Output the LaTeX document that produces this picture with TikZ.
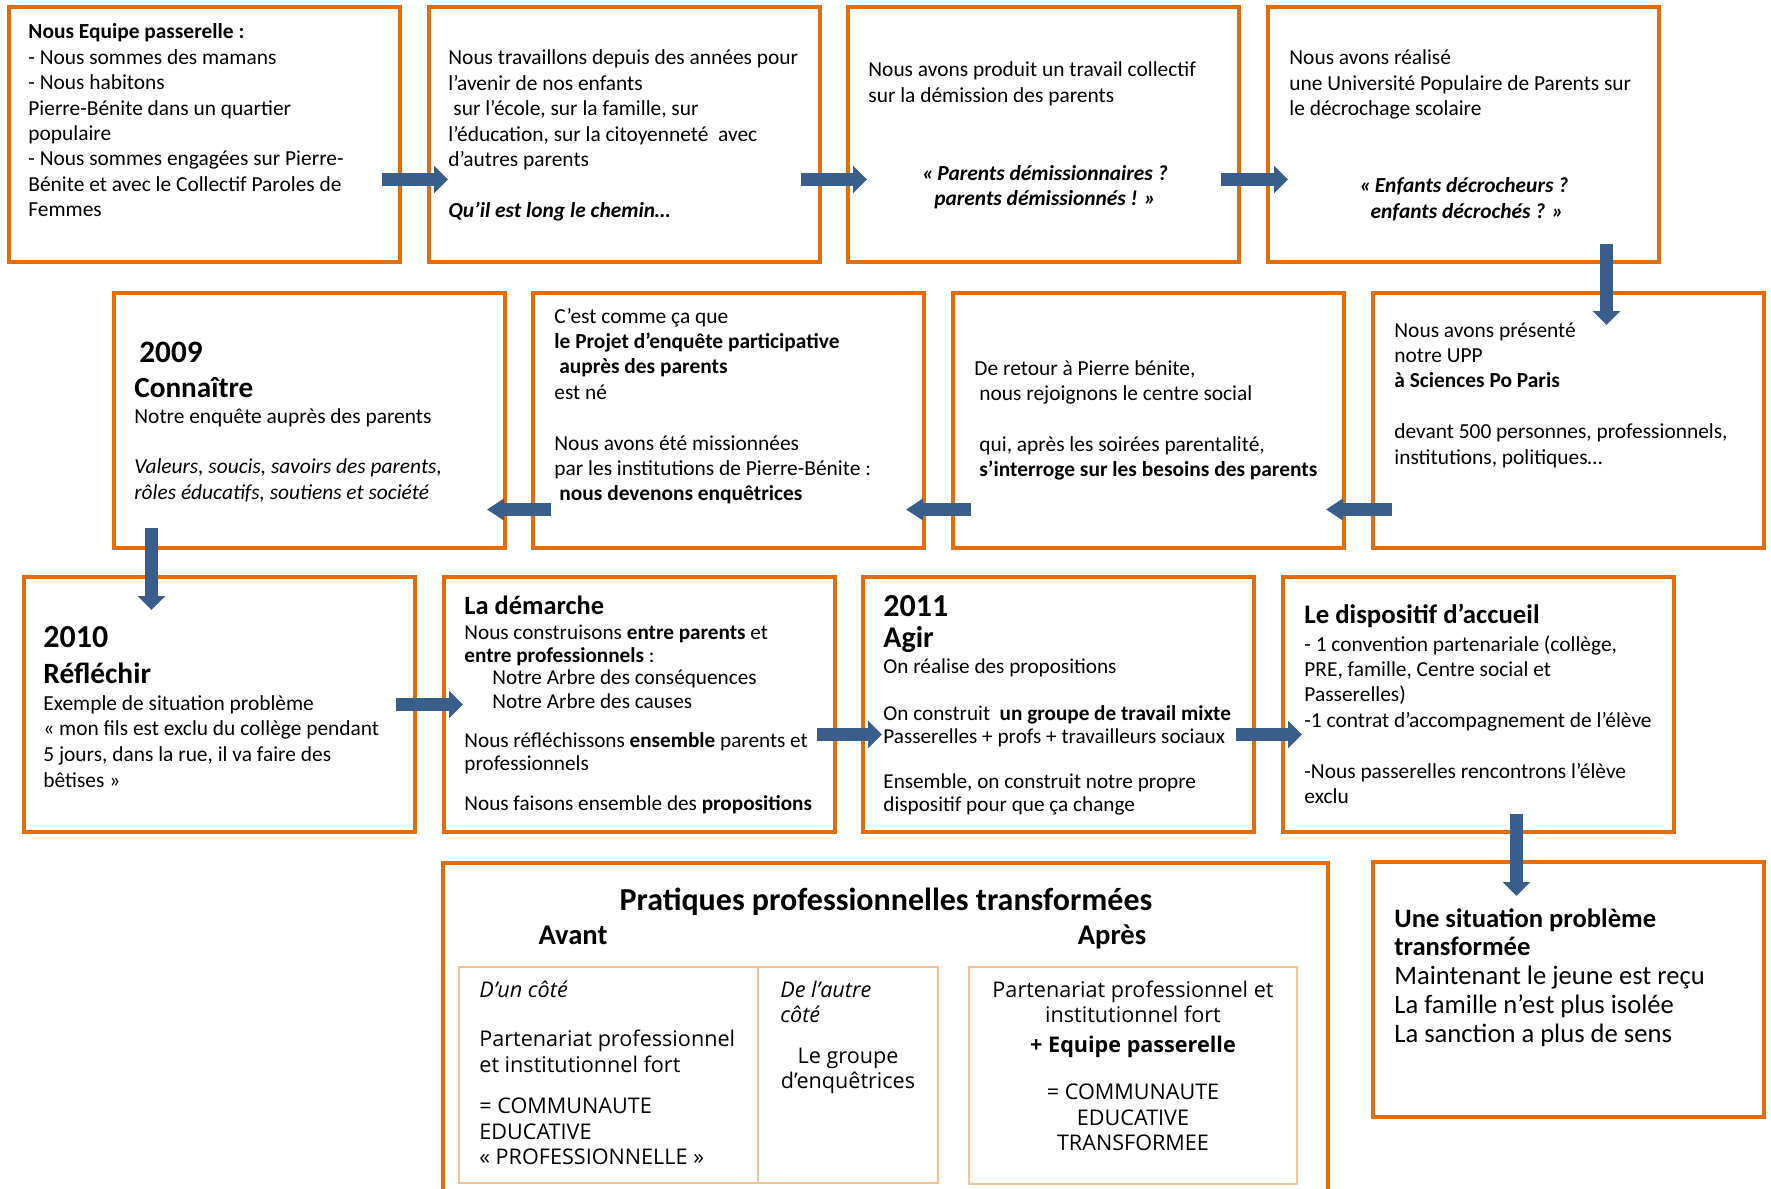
\documentclass[tikz,border=0pt]{standalone}
\usepackage{fontspec}
\setmainfont{Carlito}
\newfontfamily\tabfont{Open Sans}
\usetikzlibrary{arrows.meta,fit}
\definecolor{boxorange}{RGB}{228,108,10}
\definecolor{lightorange}{RGB}{250,192,144}
\definecolor{arrowblue}{RGB}{58,94,140}
\newcommand\bodyfont{\fontsize{10.7}{12.7}\selectfont}
\newcommand\smallbody{\fontsize{10.6}{11.7}\selectfont}
\newcommand\tabbody{\tabfont\fontsize{10.8}{12.6}\selectfont}
\newcommand\tbx[1]{\parbox[t]{260pt}{\raggedright #1}}
\newcommand\tbc[2]{\parbox[t]{#1}{\centering #2}}
\tikzset{
  box/.style={draw=boxorange, line width=1.75pt, inner sep=0pt},
  tabbox/.style={draw=lightorange, line width=1pt, inner sep=0pt},
  txt/.style={anchor=base west, inner sep=0pt, font=\bodyfont},
  ctxt/.style={anchor=base, inner sep=0pt, font=\bodyfont},
  barrow/.style={draw=arrowblue, line width=6.5pt, -{Triangle[width=13.5pt,length=7pt,fill=arrowblue]}},
  larrow/.style={draw=arrowblue, line width=6.5pt, -{Triangle[width=10.5pt,length=8.5pt,fill=arrowblue]}},
}
\begin{document}
\begin{tikzpicture}[x=0.5pt,y=-0.5pt]
\useasboundingbox (0,0) rectangle (1771,1188);
\fill[white] (0,0) rectangle (1771,1188);
\clip (0,0) rectangle (1771,1188);

% ---------- boxes ----------
\node[box, fit={(9,7) (400,262)}] (b1) {};
\node[box, fit={(429,7) (820,262)}] (b2) {};
\node[box, fit={(848,7) (1239,262)}] (b3) {};
\node[box, fit={(1268,7) (1659,262)}] (b4) {};
\node[box, fit={(114,293) (505,548)}] (b5) {};
\node[box, fit={(533,293) (924,548)}] (b6) {};
\node[box, fit={(953,293) (1344,548)}] (b7) {};
\node[box, fit={(1373,293) (1764,548)}] (b8) {};
\node[box, fit={(24,577) (415,832)}] (b9) {};
\node[box, fit={(444,577) (835,832)}] (b10) {};
\node[box, fit={(863,577) (1254,832)}] (b11) {};
\node[box, fit={(1283,577) (1674,832)}] (b12) {};
\node[box, fit={(443,863) (1328,1215)}] (b13) {};
\node[box, fit={(1373,862) (1764,1117)}] (b14) {};
\node[tabbox, fit={(459,967) (758,1183)}] (t1) {};
\node[tabbox, fit={(758,967) (938,1183)}] (t2) {};
\node[tabbox, fit={(969,967) (1297,1184)}] (t3) {};

% ---------- row 1 texts ----------
\node[txt] (x1) at (28,39) {\tbx{\textbf{Nous Equipe passerelle :}\\- Nous sommes des mamans\\- Nous habitons\\Pierre-Bénite dans un quartier\\populaire\\- Nous sommes engagées sur Pierre-\\Bénite et avec le Collectif Paroles de\\Femmes}};
\node[txt] (x2) at (448,65) {\tbx{Nous travaillons depuis des années pour\\l’avenir de nos enfants\\\hspace*{2.5pt}sur l’école, sur la famille, sur\\l’éducation, sur la citoyenneté\ \ avec\\d’autres parents\\[12.7pt]\textbf{\textit{Qu’il est long le chemin…}}}};
\node[txt] (x3) at (868,77) {\tbx{Nous avons produit un travail collectif\\sur la démission des parents}};
\node[ctxt] (x3b) at (1045,180) {\tbc{220pt}{\textbf{\textit{«\,Parents démissionnaires ?\\parents démissionnés ! »}}}};
\node[txt] (x4) at (1289,65) {\tbx{Nous avons réalisé\\une Université Populaire de Parents sur\\le décrochage scolaire}};
\node[ctxt] (x4b) at (1464,192.7) {\tbc{220pt}{\textbf{\textit{«\,Enfants décrocheurs ?\\\hspace*{3pt}enfants décrochés ? »}}}};

% ---------- row 2 texts ----------
\node[txt, font=\bfseries\fontsize{15.6}{17}\selectfont] (y5a) at (139,362) {2009};
\node[txt, font=\bfseries\fontsize{14.6}{16}\selectfont] (y5b) at (134,397) {Connaître};
\node[txt] (y5c) at (134,423) {\tbx{Notre enquête auprès des parents\\[12.7pt]\textit{Valeurs, soucis, savoirs des parents,}\\\textit{rôles éducatifs, soutiens et société}}};
\node[txt] (y6) at (554,323) {\tbx{C’est comme ça que\\\textbf{le Projet d’enquête participative}\\\hspace*{2.5pt}\textbf{auprès des parents}\\est né\\[12.7pt]Nous avons été missionnées\\par les institutions de Pierre-Bénite :\\\hspace*{2.5pt}\textbf{nous devenons enquêtrices}}};
\node[txt] (y7) at (974,375) {\tbx{De retour à Pierre bénite,\\\hspace*{2.5pt}nous rejoignons le centre social\\[12.7pt]\hspace*{2.5pt}qui, après les soirées parentalité,\\\hspace*{2.5pt}\textbf{s’interroge sur les besoins des parents}}};
\node[txt] (y8) at (1394,337) {\tbx{Nous avons présenté\\notre UPP\\\textbf{à Sciences Po Paris}\\[12.7pt]devant 500 personnes, professionnels,\\institutions, politiques…}};

% ---------- row 3 texts ----------
\node[txt, font=\bfseries\fontsize{16}{17}\selectfont] (z9a) at (43,647) {2010};
\node[txt, font=\bfseries\fontsize{14.7}{16}\selectfont] (z9b) at (43,683) {Réfléchir};
\node[txt, font=\fontsize{10.7}{12.85}\selectfont] (z9c) at (43,710) {\tbx{Exemple de situation problème\\« mon fils est exclu du collège pendant\\5 jours, dans la rue, il va faire des\\bêtises »}};
\node[txt, font=\bfseries\fontsize{13.2}{15}\selectfont] (z10a) at (464,614) {La démarche};
\node[txt, font=\smallbody] (z10b) at (464,639) {\tbx{Nous construisons \textbf{entre parents} et\\\textbf{entre professionnels} :\\[-0.5pt]\hspace*{14pt}Notre Arbre des conséquences\\\hspace*{14pt}Notre Arbre des causes\\[7.8pt]Nous réfléchissons \textbf{ensemble} parents et\\professionnels\\[8.3pt]Nous faisons ensemble des \textbf{propositions}}};
\node[txt, font=\bfseries\fontsize{16}{17}\selectfont] (z11a) at (883,616) {2011};
\node[txt, font=\bfseries\fontsize{15}{16}\selectfont] (z11b) at (883,647) {Agir};
\node[txt, font=\smallbody] (z11c) at (883,673) {\tbx{On réalise des propositions\\[11.8pt]On construit\ \ \textbf{un groupe de travail mixte}\\Passerelles + profs + travailleurs sociaux\\[10.8pt]Ensemble, on construit notre propre\\dispositif pour que ça change}};
\node[txt, font=\bfseries\fontsize{13.4}{15}\selectfont] (z12a) at (1304,623) {Le dispositif d’accueil};
\node[txt] (z12b) at (1304,651) {\tbx{- 1 convention partenariale (collège,\\PRE, famille, Centre social et\\Passerelles)\\-1 contrat d’accompagnement de l’élève\\[12.7pt]-Nous passerelles rencontrons l’élève\\exclu}};

% ---------- bottom ----------
\node[txt, font=\fontsize{13.3}{14.4}\selectfont] (s14) at (1394,927) {\tbx{\textbf{Une situation problème}\\\textbf{transformée}\\Maintenant le jeune est reçu\\La famille n’est plus isolée\\La sanction a plus de sens}};
\node[ctxt, font=\bfseries\fontsize{16}{18}\selectfont] (p0) at (886,910) {Pratiques professionnelles transformées};
\node[ctxt, font=\bfseries\fontsize{14.3}{16}\selectfont] (p1) at (573,944) {Avant};
\node[ctxt, font=\bfseries\fontsize{14.3}{16}\selectfont] (p2) at (1112,944) {Après};
\node[txt, font=\tabbody] (q1) at (479,997) {\tbx{\textit{D’un côté}\\[12.3pt]Partenariat professionnel\\et institutionnel fort\\[8.3pt]= COMMUNAUTE\\EDUCATIVE\\« PROFESSIONNELLE »}};
\node[txt, font=\tabbody] (q2) at (780,997) {\tbx{\textit{De l’autre}\\\textit{côté}}};
\node[ctxt, font=\tabbody] (q3) at (848,1063) {\tbc{150pt}{Le groupe\\d’enquêtrices}};
\node[ctxt, font=\tabbody] (q4) at (1133,997) {\tbc{170pt}{Partenariat professionnel et\\institutionnel fort\\[2.3pt]\textbf{+ Equipe passerelle}\\[11.3pt]= COMMUNAUTE\\EDUCATIVE\\TRANSFORMEE}};

% ---------- arrows ----------
\coordinate (a1s) at (382,179.5);  \coordinate (a1e) at (448,179.5);
\coordinate (a2s) at (801,179.5);  \coordinate (a2e) at (867,179.5);
\coordinate (a3s) at (1221,179.5); \coordinate (a3e) at (1288,179.5);
\coordinate (a4s) at (1606.5,244); \coordinate (a4e) at (1606.5,325);
\coordinate (a5s) at (1392,509.5); \coordinate (a5e) at (1326,509.5);
\coordinate (a6s) at (971,509.5);  \coordinate (a6e) at (906,509.5);
\coordinate (a7s) at (551,509.5);  \coordinate (a7e) at (487,509.5);
\coordinate (a8s) at (151.5,528);  \coordinate (a8e) at (151.5,610);
\coordinate (a9s) at (396,704.5);  \coordinate (a9e) at (463,704.5);
\coordinate (a10s) at (817,734.5); \coordinate (a10e) at (882,734.5);
\coordinate (a11s) at (1236,734.5);\coordinate (a11e) at (1302,734.5);
\coordinate (a12s) at (1516.5,814);\coordinate (a12e) at (1516.5,896);
\draw[barrow] (a1s) -- (a1e);
\draw[barrow] (a2s) -- (a2e);
\draw[barrow] (a3s) -- (a3e);
\draw[barrow] (a4s) -- (a4e);
\draw[larrow] (a5s) -- (a5e);
\draw[larrow] (a6s) -- (a6e);
\draw[larrow] (a7s) -- (a7e);
\draw[barrow] (a8s) -- (a8e);
\draw[barrow] (a9s) -- (a9e);
\draw[barrow] (a10s) -- (a10e);
\draw[barrow] (a11s) -- (a11e);
\draw[barrow] (a12s) -- (a12e);
\end{tikzpicture}
\end{document}
